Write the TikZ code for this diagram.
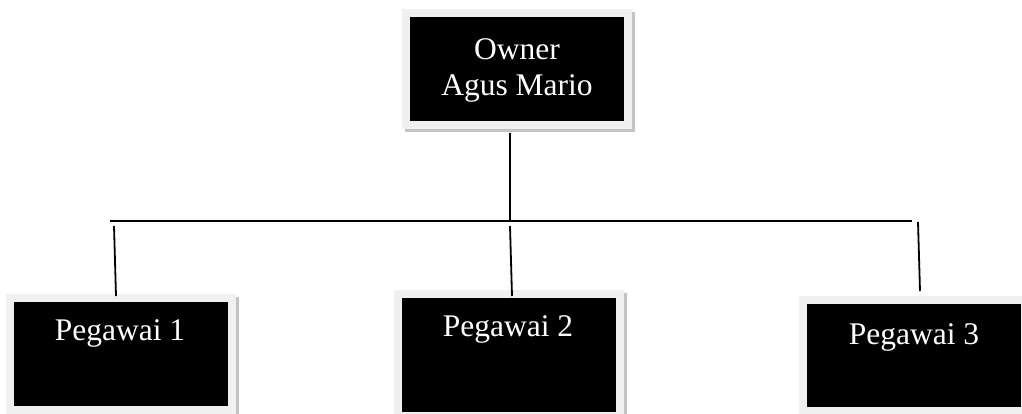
\documentclass[tikz,border=0pt]{standalone}
\usepackage{fontspec}
\setmainfont{Liberation Serif}
\usetikzlibrary{shadows}
\definecolor{rim}{RGB}{240,240,240}
\definecolor{shade}{RGB}{195,195,195}
\begin{document}
\begin{tikzpicture}[x=1pt,y=-1pt,
  box/.style={draw=rim, line width=8pt, fill=black, minimum width=222pt, inner sep=0pt,
    drop shadow={shadow xshift=3pt, shadow yshift=-3pt, fill=shade, draw=shade, line width=8pt, opacity=1}},
  txt/.style={text=white, font=\fontsize{31.5}{36}\selectfont, align=center, inner sep=0pt},
  conn/.style={line width=1.8pt, line cap=butt}]
\useasboundingbox (0,0) rectangle (1022,414);
\clip (0,0) rectangle (1022,414);
% boxes
\node[box, minimum height=112pt] (owner) at (517,69) {};
\node[box, minimum height=112pt] (p1) at (121,354) {};
\node[box, minimum height=122pt] (p2) at (509,355) {};
\node[box, minimum height=111pt] (p3) at (914,355.5) {};
% texts
\node[txt] (ownert) at (517,70) {Owner\\Agus Mario};
\node[txt, anchor=base] (p1t) at (120,340) {Pegawai 1};
\node[txt, anchor=base] (p2t) at (508,336) {Pegawai 2};
\node[txt, anchor=base] (p3t) at (914,344) {Pegawai 3};
% connector points
\coordinate (ob) at (510,133);
\coordinate (oh) at (510,221);
\coordinate (hl) at (110,221);
\coordinate (hr) at (912,221);
\coordinate (d1a) at (114,226);
\coordinate (d1b) at (116,296);
\coordinate (d2a) at (510,226);
\coordinate (d2b) at (512,296);
\coordinate (d3a) at (918,222);
\coordinate (d3b) at (920,291);
\draw[conn] (ob) -- (oh);
\draw[conn] (hl) -- (hr);
\draw[conn] (d1a) -- (d1b);
\draw[conn] (d2a) -- (d2b);
\draw[conn] (d3a) -- (d3b);
\end{tikzpicture}
\end{document}
